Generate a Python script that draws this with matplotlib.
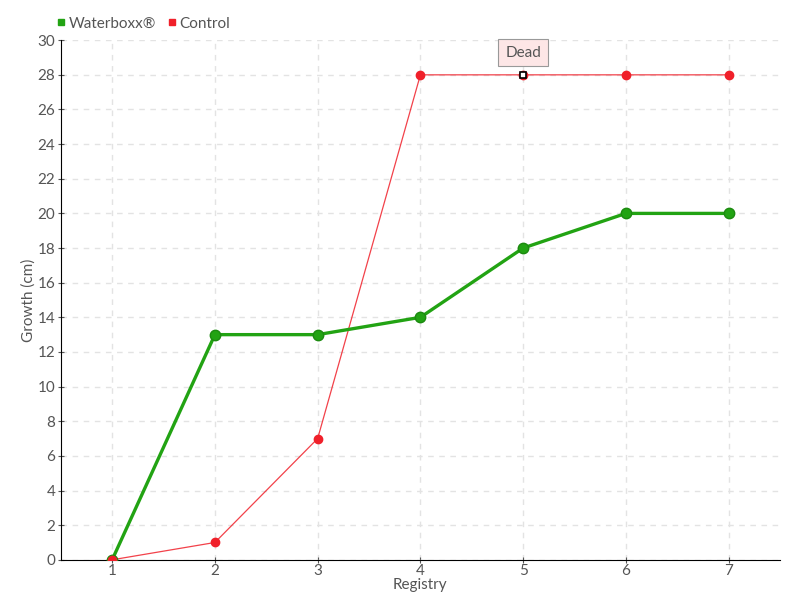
import matplotlib

matplotlib.use("Agg")
import matplotlib.pyplot as plt  # noqa: E402
from matplotlib.lines import Line2D  # noqa: E402

plt.rcParams["font.family"] = ["Lato", "DejaVu Sans"]

registry = [1, 2, 3, 4, 5, 6, 7]
waterboxx = [0, 13, 13, 14, 18, 20, 20]
control = [0, 1, 7, 28, 28, 28, 28]
y_ticks = list(range(0, 31, 2))
dead_index = 4

text_color = "#555555"
green = "#22a313"
red = "#f0202a"

fig = plt.figure(figsize=(8, 6), dpi=100)
ax = fig.add_axes([0.076, 0.067, 0.899, 0.866])

ax.plot(registry, control, color=red, lw=0.9, alpha=0.85, zorder=3)
ax.plot(registry, control, "o", color=red, ms=6, zorder=4)
ax.plot(registry, waterboxx, color=green, lw=2.4, zorder=5)
ax.plot(registry, waterboxx, "o", color=green, mec="#1c8a10", ms=7.5, zorder=6)
ax.plot(registry[0], control[0], "o", color=red, ms=6, zorder=7)

# "Dead" marker and annotation
ax.plot(registry[dead_index], control[dead_index], "s", color="white",
        mec="black", mew=1.2, ms=4.5, zorder=8)
ax.annotate("Dead", (registry[dead_index], control[dead_index]),
            xytext=(0, 16), textcoords="offset points", ha="center", va="center",
            fontsize=11, color=text_color,
            bbox=dict(boxstyle="square,pad=0.45", fc="#fde6e6", ec="#999999", lw=0.8),
            zorder=9)

ax.set_xlim(0.5, 7.5)
ax.set_ylim(0, 30)
ax.set_xticks(registry)
ax.set_yticks(y_ticks)
ax.grid(True, color="#e3e3e3", linestyle=(0, (4, 4)), lw=1)
ax.set_axisbelow(True)
for side in ("top", "right"):
    ax.spines[side].set_visible(False)
for side in ("left", "bottom"):
    ax.spines[side].set_color("black")
ax.tick_params(axis="both", colors=text_color, labelsize=11, length=4,
               direction="inout")
ax.tick_params(axis="y", pad=2)
ax.tick_params(axis="x", pad=1)
ax.set_xlabel("Registry", color=text_color, fontsize=11, labelpad=0)
ax.set_ylabel("Growth (cm)", color=text_color, fontsize=11, labelpad=1)

handles = [
    Line2D([], [], marker="s", color=green, ls="", ms=5),
    Line2D([], [], marker="s", color=red, ls="", ms=5),
]
fig.legend(handles, ["Waterboxx®", "Control"], loc="upper left",
           bbox_to_anchor=(0.052, 0.995), ncol=2, frameon=False, fontsize=11,
           handletextpad=0.1, columnspacing=0.6, handlelength=0.8,
           labelcolor=text_color)

fig.savefig("out.png", dpi=100)
